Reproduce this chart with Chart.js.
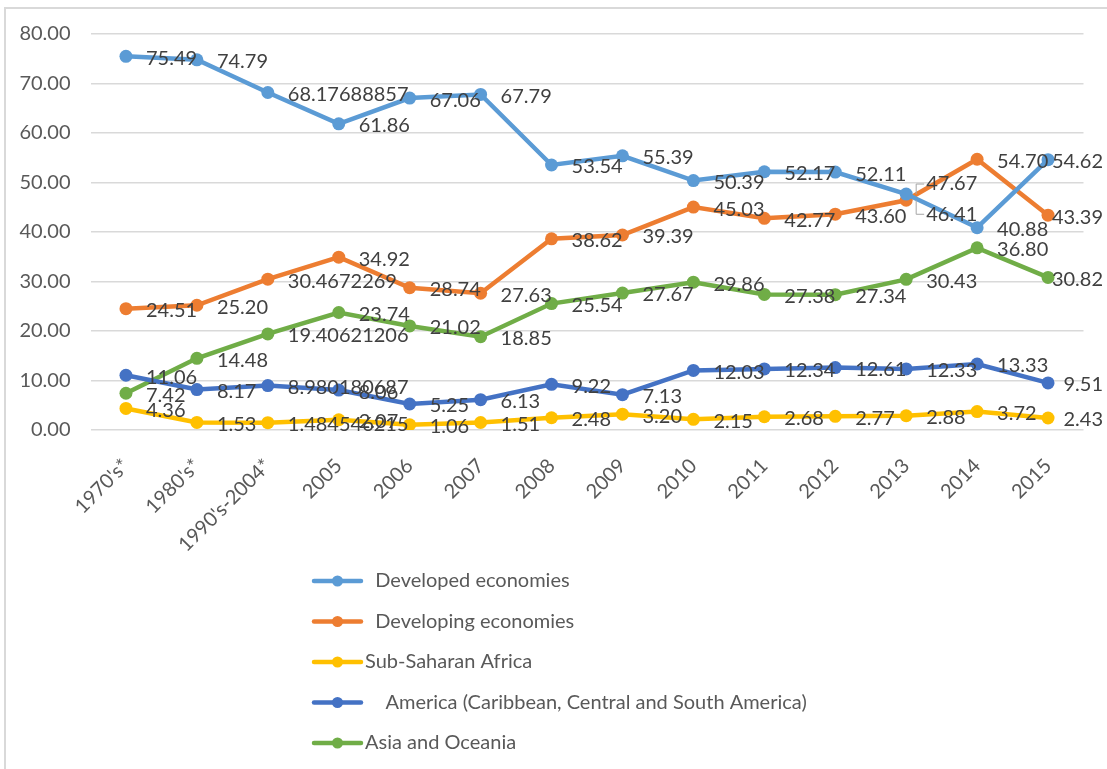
<!DOCTYPE html>
<html>
<head>
<meta charset="utf-8">
<script src="https://cdn.jsdelivr.net/npm/chart.js@4.4.1/dist/chart.umd.min.js"></script>
<style>
  html, body { margin: 0; padding: 0; background: #fff; overflow: hidden; }
  #wrap { position: relative; width: 1107px; height: 769px; }
  #frame { position: absolute; left: 4px; top: 7px; width: 1200px; height: 900px;
           border: 2px solid #d9d9d9; box-sizing: border-box; }
  canvas { position: absolute; left: 0; top: 0; }
</style>
</head>
<body>
<div id="wrap">
  <div id="frame"></div>
  <canvas id="chart" width="1107" height="769"></canvas>
</div>
<script>
const categories = ["1970's*", "1980's*", "1990's-2004*", "2005", "2006", "2007", "2008",
  "2009", "2010", "2011", "2012", "2013", "2014", "2015"];

const developed = [75.49, 74.79, 68.17688857, 61.86, 67.06, 67.79, 53.54, 55.39, 50.39, 52.17, 52.11, 47.67, 40.88, 54.62];
const developing = [24.51, 25.20, 30.4672269, 34.92, 28.74, 27.63, 38.62, 39.39, 45.03, 42.77, 43.60, 46.41, 54.70, 43.39];
const subSaharan = [4.36, 1.53, 1.484546215, 2.07, 1.06, 1.51, 2.48, 3.20, 2.15, 2.68, 2.77, 2.88, 3.72, 2.43];
const america = [11.06, 8.17, 8.980180687, 8.06, 5.25, 6.13, 9.22, 7.13, 12.03, 12.34, 12.61, 12.33, 13.33, 9.51];
const asia = [7.42, 14.48, 19.40621206, 23.74, 21.02, 18.85, 25.54, 27.67, 29.86, 27.38, 27.34, 30.43, 36.80, 30.82];

const seriesNames = ["  Developed economies", "  Developing economies", "Sub-Saharan Africa",
  "    America (Caribbean, Central and South America)", "Asia and Oceania"];
const seriesColors = ["#5b9bd5", "#ed7d31", "#ffc000", "#4472c4", "#70ad47"];
const seriesValues = [developed, developing, subSaharan, america, asia];

// labels that got pushed off their points (dataset index -> point index -> dy)
const labelShift = { 0: { 11: -12 }, 1: { 11: 12 } };

const FONT = "Lato, 'Open Sans', sans-serif";

function fmt(v) {
  const s = String(v);
  const dec = s.includes('.') ? s.split('.')[1].length : 0;
  return dec > 2 ? s : v.toFixed(2);
}

const valueLabels = {
  id: 'valueLabels',
  afterDatasetsDraw(chart) {
    const ctx = chart.ctx;
    const maxRight = chart.width - 4;
    ctx.save();
    ctx.font = '20px ' + FONT;
    ctx.fillStyle = '#404040';
    ctx.textBaseline = 'middle';
    ctx.textAlign = 'left';
    chart.data.datasets.forEach((ds, di) => {
      const meta = chart.getDatasetMeta(di);
      meta.data.forEach((pt, i) => {
        const text = fmt(ds.data[i]);
        const w = ctx.measureText(text).width;
        const dy = (labelShift[di] && labelShift[di][i]) || 0;
        const x = Math.min(pt.x + 20, maxRight - w);
        const y = pt.y + 2 + dy;
        if (dy) {
          ctx.strokeStyle = '#a6a6a6';
          ctx.lineWidth = 1;
          ctx.beginPath();
          ctx.moveTo(x - 2, y);
          ctx.lineTo(x - 10, y);
          ctx.lineTo(x - 10, pt.y);
          ctx.stroke();
        }
        ctx.fillText(text, x, y);
      });
    });
    ctx.restore();
  }
};

// vertical legend under the axis labels
const stackedLegend = {
  id: 'stackedLegend',
  afterDraw(chart) {
    const ctx = chart.ctx;
    ctx.save();
    ctx.font = '20px ' + FONT;
    ctx.textBaseline = 'middle';
    chart.data.datasets.forEach((ds, i) => {
      const y = 581 + i * 40.5;
      ctx.strokeStyle = ds.borderColor;
      ctx.lineWidth = 4.5;
      ctx.lineCap = 'round';
      ctx.beginPath();
      ctx.moveTo(314, y);
      ctx.lineTo(361, y);
      ctx.stroke();
      ctx.fillStyle = ds.borderColor;
      ctx.beginPath();
      ctx.arc(337.5, y, 5.5, 0, Math.PI * 2);
      ctx.fill();
      ctx.fillStyle = '#595959';
      ctx.fillText(ds.label, 365, y);
    });
    ctx.restore();
  }
};

new Chart(document.getElementById('chart'), {
  type: 'line',
  data: {
    labels: categories,
    datasets: seriesValues.map((vals, i) => ({
      label: seriesNames[i],
      data: vals,
      borderColor: seriesColors[i],
      backgroundColor: seriesColors[i],
      borderWidth: 4.5,
      pointRadius: 6.5,
      pointHoverRadius: 6.5,
      pointBorderWidth: 0,
      tension: 0,
      fill: false
    }))
  },
  options: {
    responsive: false,
    animation: false,
    layout: { padding: { top: 34, left: 0, right: 23.5, bottom: 199 } },
    plugins: {
      legend: { display: false },
      tooltip: { enabled: false }
    },
    scales: {
      x: {
        offset: true,
        grid: { display: false },
        border: { display: false },
        ticks: {
          color: '#595959',
          font: { family: FONT, size: 20 },
          minRotation: 45,
          maxRotation: 45,
          padding: 16
        },
        // tall enough that the long rotated label is not clipped
        afterFit(scale) { scale.height = 140; }
      },
      y: {
        min: 0,
        max: 80,
        ticks: {
          stepSize: 10,
          color: '#595959',
          font: { family: FONT, size: 20 },
          padding: 20,
          callback: v => v.toFixed(2)
        },
        grid: { color: '#d9d9d9', lineWidth: 1.5, drawTicks: false },
        border: { display: false },
        afterFit(scale) { scale.width = 90.5; }
      }
    }
  },
  plugins: [valueLabels, stackedLegend]
});
</script>
</body>
</html>
